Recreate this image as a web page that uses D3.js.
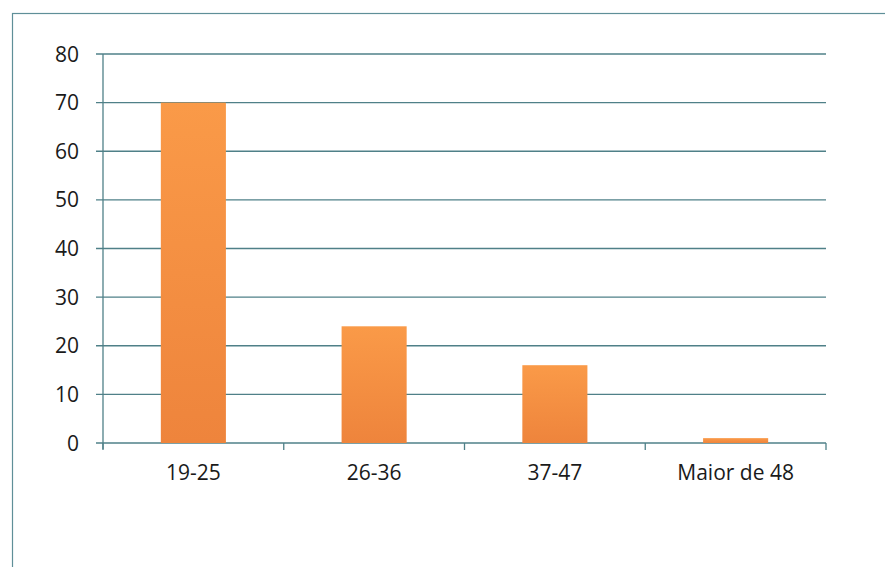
<!DOCTYPE html>
<html>
<head>
<meta charset="utf-8">
<script src="https://cdn.jsdelivr.net/npm/d3@7"></script>
<style>
  body { margin: 0; background: #fff; }
  svg { display: block; }
</style>
</head>
<body>
<div id="chart"></div>
<script>
// data
const categories = ["19-25", "26-36", "37-47", "Maior de 48"];
const values = [70, 24, 16, 1];
const yTicks = [0, 10, 20, 30, 40, 50, 60, 70, 80];

const width = 885, height = 567;
const plotLeft = 103, plotRight = 826, plotTop = 54, plotBottom = 443;
const gridColor = "#4f8088";

const svg = d3.select("#chart").append("svg")
    .attr("width", width)
    .attr("height", height);

// bar gradient
const grad = svg.append("defs").append("linearGradient")
    .attr("id", "barGrad")
    .attr("x1", 0).attr("y1", 0).attr("x2", 0).attr("y2", 1);
grad.append("stop").attr("offset", "0%").attr("stop-color", "#fa9a48");
grad.append("stop").attr("offset", "100%").attr("stop-color", "#ee843c");

// outer frame
svg.append("rect")
    .attr("x", 12.5).attr("y", 13.5)
    .attr("width", width)
    .attr("height", height)
    .attr("fill", "none")
    .attr("stroke", "#5f8f98")
    .attr("stroke-width", 1.2);

const x = d3.scaleBand().domain(categories).range([plotLeft, plotRight]).paddingInner(0.64).paddingOuter(0.32);
const y = d3.scaleLinear().domain([0, 80]).range([plotBottom, plotTop]);

// gridlines
svg.append("g")
    .selectAll("line")
    .data(yTicks)
    .join("line")
    .attr("x1", plotLeft - 7).attr("x2", plotRight)
    .attr("y1", d => y(d)).attr("y2", d => y(d))
    .attr("stroke", gridColor)
    .attr("stroke-width", 1.3);

// y axis line
svg.append("line")
    .attr("x1", plotLeft).attr("x2", plotLeft)
    .attr("y1", plotTop).attr("y2", plotBottom + 6)
    .attr("stroke", gridColor)
    .attr("stroke-width", 1.3);

// x category ticks (between categories)
const tickXs = d3.range(categories.length + 1).map(i => plotLeft + i * (plotRight - plotLeft) / categories.length);
svg.append("g")
    .selectAll("line")
    .data(tickXs)
    .join("line")
    .attr("x1", d => d).attr("x2", d => d)
    .attr("y1", plotBottom).attr("y2", plotBottom + 7)
    .attr("stroke", gridColor)
    .attr("stroke-width", 1.3);

// bars
svg.append("g")
    .selectAll("rect")
    .data(values)
    .join("rect")
    .attr("x", (d, i) => x(categories[i]))
    .attr("y", d => y(d))
    .attr("width", x.bandwidth())
    .attr("height", d => y(0) - y(d))
    .attr("fill", "url(#barGrad)");

// y labels
svg.append("g")
    .selectAll("text")
    .data(yTicks)
    .join("text")
    .attr("x", 79)
    .attr("y", d => y(d))
    .attr("dy", "0.36em")
    .attr("text-anchor", "end")
    .attr("font-family", "'Open Sans', sans-serif")
    .attr("font-size", 21)
    .attr("fill", "#1a1a1a")
    .text(d => d);

// x labels
svg.append("g")
    .selectAll("text")
    .data(categories)
    .join("text")
    .attr("x", d => x(d) + x.bandwidth() / 2)
    .attr("y", 480)
    .attr("text-anchor", "middle")
    .attr("font-family", "'Open Sans', sans-serif")
    .attr("font-size", 21)
    .attr("fill", "#1a1a1a")
    .text(d => d);
</script>
</body>
</html>
